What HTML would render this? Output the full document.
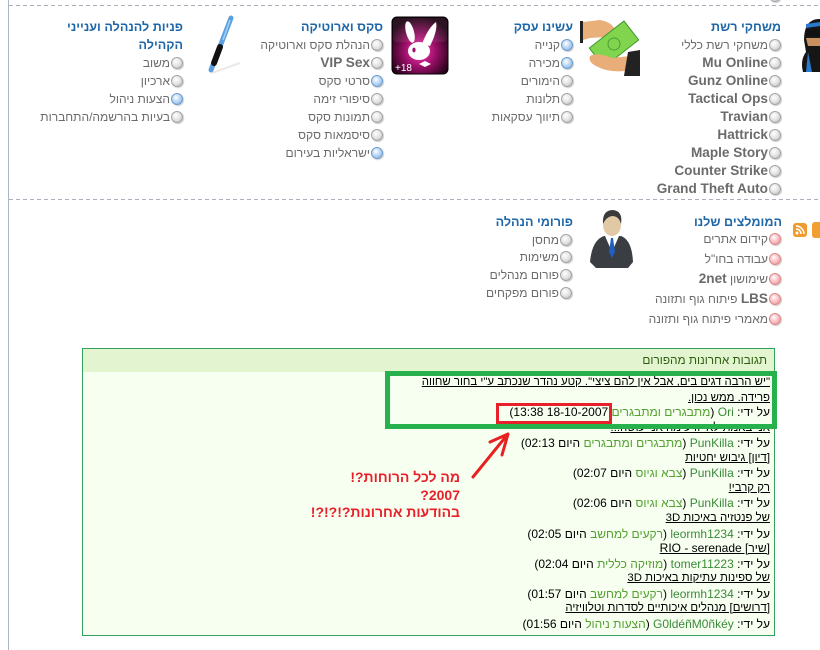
<!DOCTYPE html>
<html><head><meta charset="utf-8">
<style>
*{margin:0;padding:0}
html,body{width:820px;height:650px;overflow:hidden;background:#fff}
body{position:relative;font-family:"Liberation Sans","DejaVu Sans",sans-serif}
.a{position:absolute;white-space:nowrap;direction:rtl}
.t{color:#1d66a8;font-weight:bold;font-size:12.6px;line-height:18px}
.i{color:#6b6b6b;font-size:12px;line-height:18px}
.i b{font-size:13.6px}
.b{display:inline-block;width:10px;height:10px;border-radius:50%;border:1px solid #a4a4a4;background:radial-gradient(circle at 40% 35%,#fff 0,#e6e6e6 45%,#bdbdbd 100%);box-shadow:1px 1px 1px rgba(0,0,0,.2);vertical-align:-2px;margin-left:1px}
.bl{border-color:#6d9ccc;background:radial-gradient(circle at 40% 35%,#fff 0,#bcd8f4 45%,#7eaee0 100%)}
.pk{border-color:#d88;background:radial-gradient(circle at 40% 35%,#fff 0,#fbc4c8 45%,#ee8a94 100%)}
.m{font-size:12px;line-height:15px;color:#000;right:50px}
.m a{color:#000;text-decoration:underline}
.m.h{font-size:11.4px}
.u{color:#3a8a3a}
.c{color:#54a030}
.r{color:#e8202a;font-weight:bold;font-size:14px;line-height:18px;right:360px}
</style></head><body>

<svg width="820" height="650" style="position:absolute;left:0;top:0">
  <defs>
    <radialGradient id="pb" cx="50%" cy="60%" r="60%">
      <stop offset="0" stop-color="#ff40b8"/>
      <stop offset="0.45" stop-color="#a0106c"/>
      <stop offset="1" stop-color="#1a0010"/>
    </radialGradient>
  </defs>
  <line x1="8.5" y1="0" x2="8.5" y2="650" stroke="#a9b6c9" stroke-width="1"/>
  <line x1="9" y1="5.5" x2="820" y2="5.5" stroke="#a8b0bc" stroke-width="1" stroke-dasharray="4 3"/>
  <line x1="9" y1="199.5" x2="820" y2="199.5" stroke="#a8b0bc" stroke-width="1" stroke-dasharray="4 3"/>

  <!-- ninja -->
  <path d="M804 40 Q804 20 818 19 L820 19 L820 72 L803 72 Q800 60 806 52 Z" fill="#161616"/>
  <rect x="806" y="30" width="14" height="6" fill="#111"/>
  <path d="M806 38 L820 38 L820 46 L808 46 Z" fill="#c89060"/>
  <path d="M806 24 L820 22 L820 26 L806 28 Z" fill="#2a7ad0"/>
  <path d="M808 52 L812 72 L806 72 Z" fill="#2a7ad0"/>

  <!-- money -->
  <rect x="580" y="21" width="3" height="22" fill="#222"/>
  <path d="M583 22 L600 20 Q612 22 615 30 L606 37 L590 38 L583 40 Z" fill="#e9b07a"/>
  <g transform="rotate(-38 614 44)">
    <rect x="592" y="32" width="44" height="24" fill="#80d44e" stroke="#3f9a2a"/>
    <circle cx="614" cy="44" r="6" fill="none" stroke="#4aa030"/>
  </g>
  <path d="M590 56 Q598 52 612 58 L630 56 L632 70 Q610 74 596 66 Q588 62 590 56 Z" fill="#e8ad78"/>
  <path d="M628 52 L640 50 L640 76 L624 76 Z" fill="#222"/>

  <!-- playboy -->
  <rect x="392" y="17" width="56" height="57" rx="5" fill="url(#pb)" stroke="#000"/>
  <rect x="393" y="18" width="54" height="24" rx="4" fill="#fff" opacity="0.08"/>
  <ellipse cx="410" cy="32" rx="4" ry="11" transform="rotate(-15 410 32)" fill="#fff"/>
  <path d="M422 44 Q428 28 436 22 Q438 30 430 46 Z" fill="#fff"/>
  <ellipse cx="419" cy="51" rx="11" ry="9" fill="#fff"/>
  <ellipse cx="414" cy="50" rx="1.6" ry="2.4" fill="#a0106c"/>
  <path d="M419 64 L425 61 L425 67 Z M431 64 L425 61 L425 67 Z" fill="#fff"/>
  <text x="395" y="71" font-family="Liberation Sans, sans-serif" font-size="10" fill="#fff">+18</text>

  <!-- pen -->
  <line x1="212" y1="73" x2="240" y2="63" stroke="#ddd" stroke-width="2" opacity="0.6"/>
  <line x1="231" y1="18" x2="211" y2="70" stroke="#5aa0e0" stroke-width="5" stroke-linecap="round"/>
  <line x1="230" y1="20" x2="223" y2="40" stroke="#a8d0f4" stroke-width="1.5"/>
  <line x1="220" y1="47" x2="214" y2="63" stroke="#111" stroke-width="6" stroke-linecap="round"/>

  <!-- businessman -->
  <path d="M590 262 Q592 240 604 236 L621 236 Q632 240 633 262 L628 268 L596 268 Z" fill="#3a3d42"/>
  <path d="M605 236 L612 252 L619 236 Z" fill="#fff"/>
  <path d="M611 238 L613 238 L615 252 L612 258 L609 252 Z" fill="#1f5fbf"/>
  <ellipse cx="612" cy="225" rx="9" ry="11" fill="#e2c9a6"/>
  <path d="M603 224 Q602 210 613 210 Q623 211 621 224 Q619 216 612 216 Q606 217 603 224 Z" fill="#3a3a3a"/>

  <!-- rss -->
  <rect x="793" y="223" width="14" height="14" rx="3" fill="#f29a2e"/>
  <circle cx="797" cy="233" r="1.5" fill="#fff"/>
  <path d="M796 229 A5 5 0 0 1 801 234" stroke="#fff" stroke-width="1.5" fill="none"/>
  <path d="M796 226 A8 8 0 0 1 804 234" stroke="#fff" stroke-width="1.5" fill="none"/>
  <rect x="812" y="222" width="12" height="16" rx="3" fill="#f0a030"/>
</svg>

<!-- top partial bullet -->
<div class="a i" style="right:39px;top:-13px"><span class="b"></span></div>

<!-- column 1 -->
<div class="a t" style="right:39px;top:18px">משחקי רשת</div>
<div class="a i" style="right:39px;top:36px"><span class="b"></span>משחקי רשת כללי</div>
<div class="a i" style="right:39px;top:54px"><span class="b"></span><b>Mu Online</b></div>
<div class="a i" style="right:39px;top:72px"><span class="b"></span><b>Gunz Online</b></div>
<div class="a i" style="right:39px;top:90px"><span class="b"></span><b>Tactical Ops</b></div>
<div class="a i" style="right:39px;top:108px"><span class="b"></span><b>Travian</b></div>
<div class="a i" style="right:39px;top:126px"><span class="b"></span><b>Hattrick</b></div>
<div class="a i" style="right:39px;top:144px"><span class="b"></span><b>Maple Story</b></div>
<div class="a i" style="right:39px;top:162px"><span class="b"></span><b>Counter Strike</b></div>
<div class="a i" style="right:39px;top:180px"><span class="b"></span><b>Grand Theft Auto</b></div>

<!-- column 2 -->
<div class="a t" style="right:247px;top:18px">עשינו עסק</div>
<div class="a i" style="right:247px;top:36px"><span class="b bl"></span>קנייה</div>
<div class="a i" style="right:247px;top:54px"><span class="b bl"></span>מכירה</div>
<div class="a i" style="right:247px;top:72px"><span class="b"></span>הימורים</div>
<div class="a i" style="right:247px;top:90px"><span class="b"></span>תלונות</div>
<div class="a i" style="right:247px;top:108px"><span class="b"></span>תיווך עסקאות</div>

<!-- column 3 -->
<div class="a t" style="right:437px;top:18px">סקס וארוטיקה</div>
<div class="a i" style="right:437px;top:36px"><span class="b"></span>הנהלת סקס וארוטיקה</div>
<div class="a i" style="right:437px;top:54px"><span class="b"></span><b>VIP Sex</b></div>
<div class="a i" style="right:437px;top:72px"><span class="b bl"></span>סרטי סקס</div>
<div class="a i" style="right:437px;top:90px"><span class="b"></span>סיפורי זימה</div>
<div class="a i" style="right:437px;top:108px"><span class="b"></span>תמונות סקס</div>
<div class="a i" style="right:437px;top:126px"><span class="b"></span>סיסמאות סקס</div>
<div class="a i" style="right:437px;top:144px"><span class="b bl"></span>ישראליות בעירום</div>

<!-- column 4 -->
<div class="a t" style="right:637px;top:18px">פניות להנהלה וענייני</div>
<div class="a t" style="right:637px;top:36px">הקהילה</div>
<div class="a i" style="right:637px;top:54px"><span class="b"></span>משוב</div>
<div class="a i" style="right:637px;top:72px"><span class="b"></span>ארכיון</div>
<div class="a i" style="right:637px;top:90px"><span class="b bl"></span>הצעות ניהול</div>
<div class="a i" style="right:637px;top:108px"><span class="b"></span>בעיות בהרשמה/התחברות</div>

<!-- section 2 -->
<div class="a t" style="right:38px;top:213px">המומלצים שלנו</div>
<div class="a i" style="right:39px;top:230px"><span class="b pk"></span>קידום אתרים</div>
<div class="a i" style="right:39px;top:250px"><span class="b pk"></span>עבודה בחו"ל</div>
<div class="a i" style="right:39px;top:270px"><span class="b pk"></span>שימושון <b>2net</b></div>
<div class="a i" style="right:39px;top:290px"><span class="b pk"></span><b>LBS</b> פיתוח גוף ותזונה</div>
<div class="a i" style="right:39px;top:310px"><span class="b pk"></span>מאמרי פיתוח גוף ותזונה</div>

<div class="a t" style="right:247px;top:213px">פורומי הנהלה</div>
<div class="a i" style="right:248px;top:231px"><span class="b"></span>מחסן</div>
<div class="a i" style="right:248px;top:248px"><span class="b"></span>משימות</div>
<div class="a i" style="right:248px;top:266px"><span class="b"></span>פורום מנהלים</div>
<div class="a i" style="right:248px;top:284px"><span class="b"></span>פורום מפקחים</div>

<!-- green box -->
<div style="position:absolute;left:82px;top:348px;width:691px;height:286px;border:1px solid #33a05c;background:#f7fff0"></div>
<div style="position:absolute;left:83px;top:349px;width:691px;height:23px;background:#e2f5d0"></div>
<div class="a" style="right:53px;top:352px;font-size:11.8px;line-height:16px;color:#2f5e0e">תגובות אחרונות מהפורום</div>

<div class="a m h" style="top:375px"><a>"יש הרבה דגים בים, אבל אין להם ציצי". קטע נהדר שנכתב ע"י בחור שחווה</a></div>
<div class="a m h" style="top:391px"><a>פרידה. ממש נכון.</a></div>
<div class="a m" style="top:405px">על ידי: <span class="u">Ori</span> (<span class="c">מתבגרים ומתבגרים</span> 18-10-2007 13:38)</div>
<div class="a m h" style="top:421px"><a>אני באמת לא יודע מה אני עושה...</a></div>
<div class="a m" style="top:436px">על ידי: <span class="u">PunKilla</span> (<span class="c">מתבגרים ומתבגרים</span> היום 02:13)</div>
<div class="a m h" style="top:451px"><a>[דיון] גיבוש יחטיות</a></div>
<div class="a m" style="top:466px">על ידי: <span class="u">PunKilla</span> (<span class="c">צבא וגיוס</span> היום 02:07)</div>
<div class="a m h" style="top:481px"><a>רק קרבי!</a></div>
<div class="a m" style="top:496px">על ידי: <span class="u">PunKilla</span> (<span class="c">צבא וגיוס</span> היום 02:06)</div>
<div class="a m h" style="top:511px"><a>של פנטזיה באיכות 3D</a></div>
<div class="a m" style="top:527px">על ידי: <span class="u">leormh1234</span> (<span class="c">רקעים למחשב</span> היום 02:05)</div>
<div class="a m" style="top:541px"><a>[שיר] RIO - serenade</a></div>
<div class="a m" style="top:557px">על ידי: <span class="u">tomer11223</span> (<span class="c">מוזיקה כללית</span> היום 02:04)</div>
<div class="a m h" style="top:571px"><a>של ספינות עתיקות באיכות 3D</a></div>
<div class="a m" style="top:587px">על ידי: <span class="u">leormh1234</span> (<span class="c">רקעים למחשב</span> היום 01:57)</div>
<div class="a m h" style="top:601px"><a>[דרושים] מנהלים איכותיים לסדרות וטלוויזיה</a></div>
<div class="a m" style="top:617px">על ידי: <span class="u">G0ldéñM0ñkéy</span> (<span class="c">הצעות ניהול</span> היום 01:56)</div>

<!-- annotation text -->
<div class="a r" style="top:468px">מה לכל הרוחות?!</div>
<div class="a r" style="top:486px">2007?</div>
<div class="a r" style="top:503px">בהודעות אחרונות?!?!?!</div>

<!-- overlay -->
<svg width="820" height="650" style="position:absolute;left:0;top:0">
  <rect x="387.5" y="373.5" width="387" height="53" fill="none" stroke="#26b14c" stroke-width="5"/>
  <rect x="497.5" y="404.5" width="113" height="18" fill="none" stroke="#e8202a" stroke-width="3"/>
  <path d="M473 477 L508 434 M490 442 L508 434 L502 455" fill="none" stroke="#e82020" stroke-width="3" stroke-linecap="round" stroke-linejoin="round"/>
</svg>
</body></html>
